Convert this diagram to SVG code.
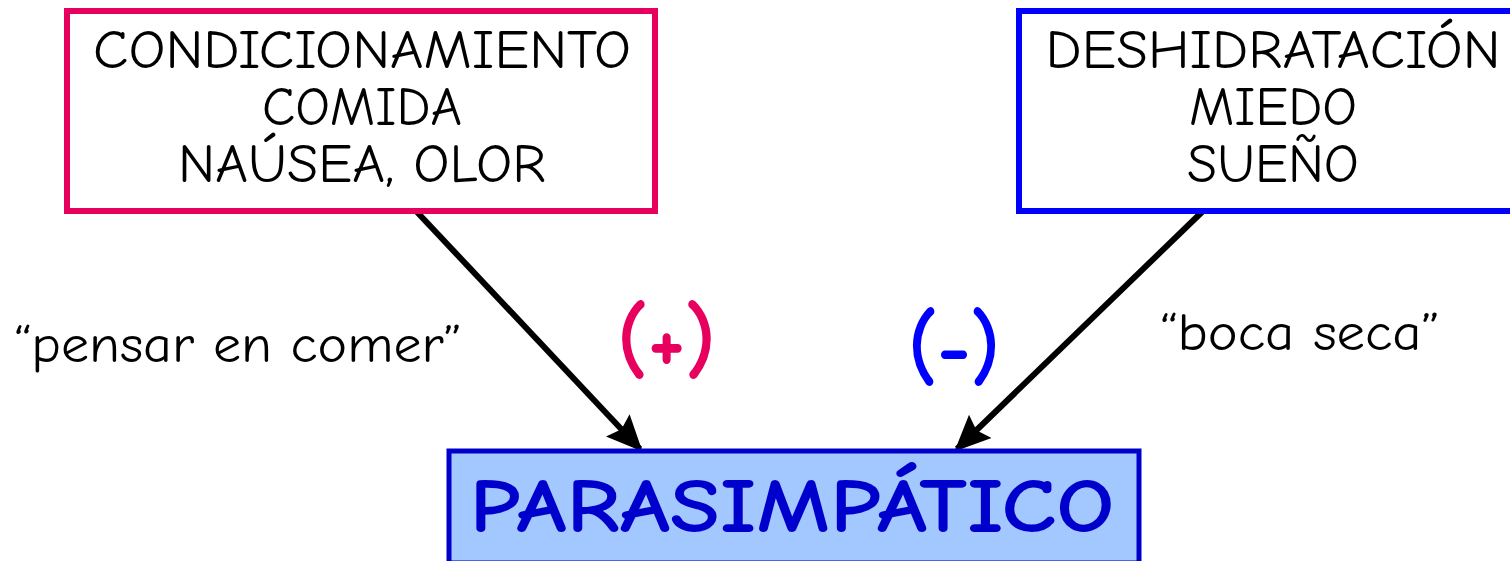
<svg xmlns="http://www.w3.org/2000/svg" width="1510" height="561" viewBox="0 0 1510 561">
<style>
.t{font-family:"Comic Neue","Open Sans","DejaVu Sans",sans-serif;font-size:54px;fill:#000;text-anchor:middle}
.lbl{font-family:"Comic Neue","Open Sans","DejaVu Sans",sans-serif;font-size:52px;fill:#000}
.sign{font-family:"Comic Neue","Open Sans","DejaVu Sans",sans-serif;font-size:92px;font-weight:bold}
.conn{stroke:#000;stroke-width:6;fill:none;marker-end:url(#ah)}
</style>
<defs>
<marker id="ah" viewBox="0 0 10 10" refX="9" refY="5" markerWidth="6" markerHeight="6" orient="auto" markerUnits="strokeWidth">
<path d="M0,0.5 L10,5 L0,9.5 L1.5,5 z" fill="#000"/>
</marker>
</defs>
<rect width="1510" height="561" fill="#fff"/>
<g id="connectors">
<line class="conn" x1="417" y1="212" x2="640" y2="449"/>
<line class="conn" x1="1202" y1="212" x2="957" y2="449"/>
</g>
<g id="node-condicionamiento">
<rect x="67" y="11" width="588" height="200" fill="#fff" stroke="#E8005E" stroke-width="6"/>
<text class="t" x="362" y="68" textLength="538" lengthAdjust="spacingAndGlyphs">CONDICIONAMIENTO</text>
<text class="t" x="362" y="125" textLength="200" lengthAdjust="spacingAndGlyphs">COMIDA</text>
<text class="t" x="362" y="182" textLength="368" lengthAdjust="spacingAndGlyphs">NAÚSEA, OLOR</text>
</g>
<g id="node-deshidratacion">
<rect x="1019" y="11" width="500" height="200" fill="#fff" stroke="#0000FF" stroke-width="6"/>
<text class="t" x="1273" y="68" textLength="455" lengthAdjust="spacingAndGlyphs">DESHIDRATACIÓN</text>
<text class="t" x="1273" y="125" textLength="168" lengthAdjust="spacingAndGlyphs">MIEDO</text>
<text class="t" x="1273" y="182" textLength="172" lengthAdjust="spacingAndGlyphs">SUEÑO</text>
</g>
<g id="node-parasimpatico">
<rect x="449" y="451" width="690" height="112" fill="#A3C8FF" stroke="#0000CC" stroke-width="5"/>
<text x="792" y="532" text-anchor="middle" font-family="'Comic Neue','Open Sans','DejaVu Sans',sans-serif" font-size="76" font-weight="bold" fill="#0000CC" textLength="645" lengthAdjust="spacingAndGlyphs">PARASIMPÁTICO</text>
</g>
<g id="labels">
<text class="lbl" x="14" y="362" textLength="448" lengthAdjust="spacingAndGlyphs">“pensar en comer”</text>
<text class="lbl" x="1160" y="350" textLength="280" lengthAdjust="spacingAndGlyphs">“boca seca”</text>
<text class="sign" x="617" y="370" fill="#E8005E" textLength="99" lengthAdjust="spacingAndGlyphs">(+)</text>
<text class="sign" x="908" y="377" fill="#0000FF" textLength="92" lengthAdjust="spacingAndGlyphs">(-)</text>
</g>
</svg>
